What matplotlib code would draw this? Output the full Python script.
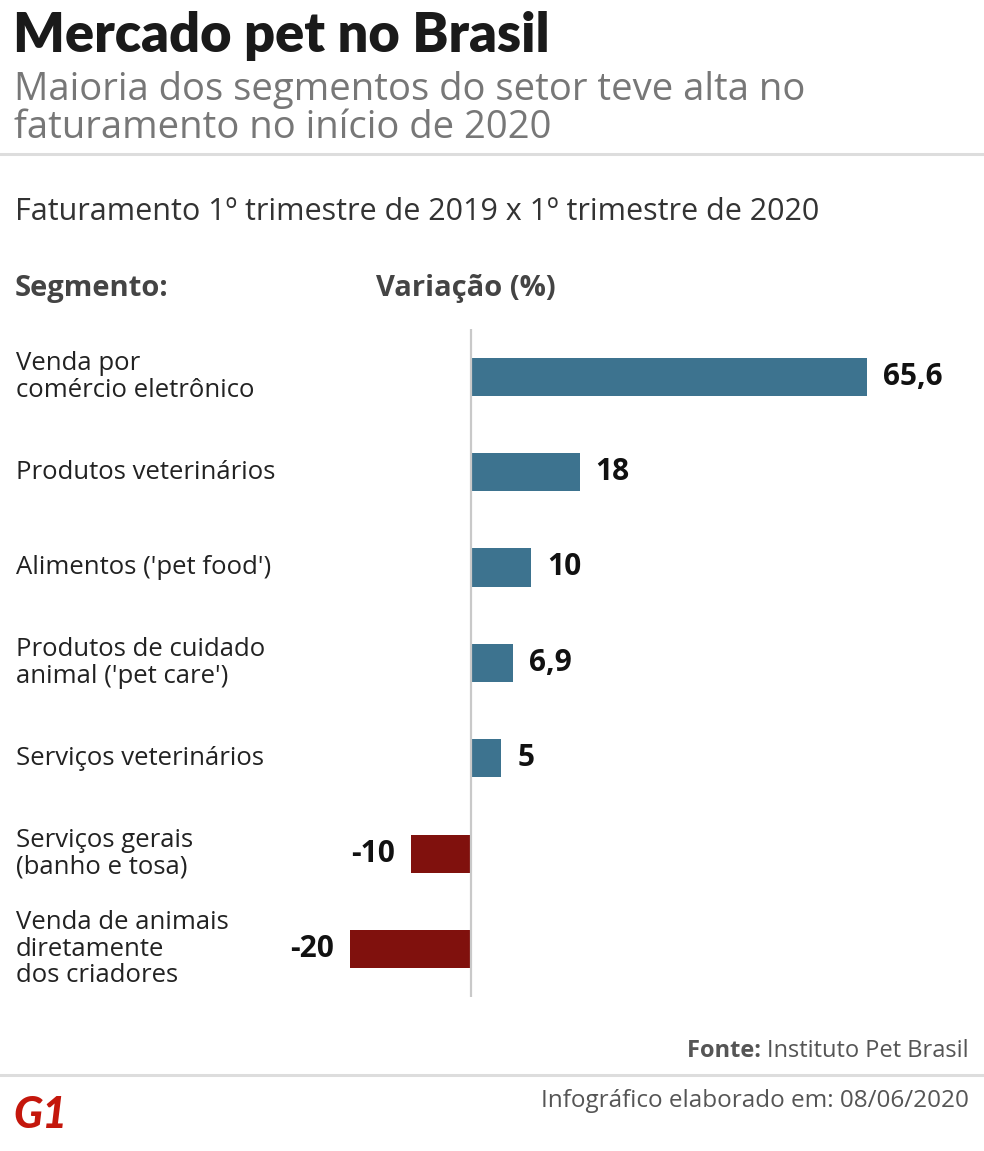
import matplotlib
matplotlib.use("Agg")
import matplotlib.pyplot as plt
from matplotlib.lines import Line2D

# ---- data ----
segmentos = [
    "Venda por\ncomércio eletrônico",
    "Produtos veterinários",
    "Alimentos ('pet food')",
    "Produtos de cuidado\nanimal ('pet care')",
    "Serviços veterinários",
    "Serviços gerais\n(banho e tosa)",
    "Venda de animais\ndiretamente\ndos criadores",
]
variacao = [65.6, 18, 10, 6.9, 5, -10, -20]
rotulos = ["65,6", "18", "10", "6,9", "5", "-10", "-20"]

COR_POS = "#3d738f"
COR_NEG = "#80110d"
W, H = 984, 1151
FONT = "Open Sans"

fig = plt.figure(figsize=(W / 100, H / 100), dpi=100)
fig.patch.set_facecolor("white")


def fx(x):
    return x / W


def fy(y):
    return 1 - y / H


# ---- bar axes (zero at x=471 px, 6.04 px per unit) ----
scale = 6.04
x0 = 471
ax = fig.add_axes([0, 1 - 996.7 / H, 1, 667.7 / H])
ax.set_xlim(-x0 / scale, (W - x0) / scale)
ax.set_ylim(len(variacao) - 0.5, -0.5)
ax.axis("off")

ypos = list(range(len(variacao)))
cores = [COR_POS if v >= 0 else COR_NEG for v in variacao]
ax.barh(ypos, variacao, height=0.4, color=cores, zorder=2)
ax.axvline(0, color="#c9c9c9", lw=1.6, zorder=3)

gap = 16 / scale
for y, v, lab, seg in zip(ypos, variacao, rotulos, segmentos):
    if v >= 0:
        ax.text(v + gap, y, lab, ha="left", va="center", fontsize=21.5,
                fontweight="bold", family=FONT, color="#111111")
    else:
        ax.text(v - gap, y, lab, ha="right", va="center", fontsize=21.5,
                fontweight="bold", family=FONT, color="#111111")
    ax.text(-x0 / scale + 16 / scale, y, seg, ha="left", va="center",
            fontsize=18.5, family=FONT, color="#222222", linespacing=1.1)

# ---- header ----
fig.text(fx(13), fy(52), "Mercado pet no Brasil", ha="left", va="baseline",
         fontsize=39, fontweight="heavy", family="Lato", color="#1a1a1a")
fig.text(fx(14), fy(100), "Maioria dos segmentos do setor teve alta no",
         ha="left", va="baseline", fontsize=27.5, family=FONT, color="#777777")
fig.text(fx(14), fy(138), "faturamento no início de 2020",
         ha="left", va="baseline", fontsize=27.5, family=FONT, color="#777777")
fig.add_artist(Line2D([0, 1], [fy(154), fy(154)], color="#dddddd", lw=2.2))

fig.text(fx(15), fy(220), "Faturamento 1º trimestre de 2019 x 1º trimestre de 2020",
         ha="left", va="baseline", fontsize=22, family=FONT, color="#333333")
fig.text(fx(15), fy(296), "Segmento:", ha="left", va="baseline",
         fontsize=21, fontweight="bold", family=FONT, color="#444444")
fig.text(fx(376), fy(296), "Variação (%)", ha="left", va="baseline",
         fontsize=21, fontweight="bold", family=FONT, color="#444444")

# ---- footer ----
src = fig.text(fx(969), fy(1057), "Instituto Pet Brasil", ha="right", va="baseline",
               fontsize=17, family=FONT, color="#555555")
plt.annotate("Fonte: ", xy=(0, 0), xycoords=src, ha="right", va="bottom",
             fontsize=17, fontweight="bold", family=FONT, color="#555555",
             annotation_clip=False)
fig.add_artist(Line2D([0, 1], [fy(1075), fy(1075)], color="#dddddd", lw=2.2))
fig.text(fx(969), fy(1107), "Infográfico elaborado em: 08/06/2020", ha="right",
         va="baseline", fontsize=17.5, family=FONT, color="#555555")
fig.text(fx(13), fy(1128), "G1", ha="left", va="baseline", fontsize=31,
         fontweight="black", family="Lato", color="#c4170c", style="italic")

fig.savefig("out.png", dpi=100, facecolor="white")
